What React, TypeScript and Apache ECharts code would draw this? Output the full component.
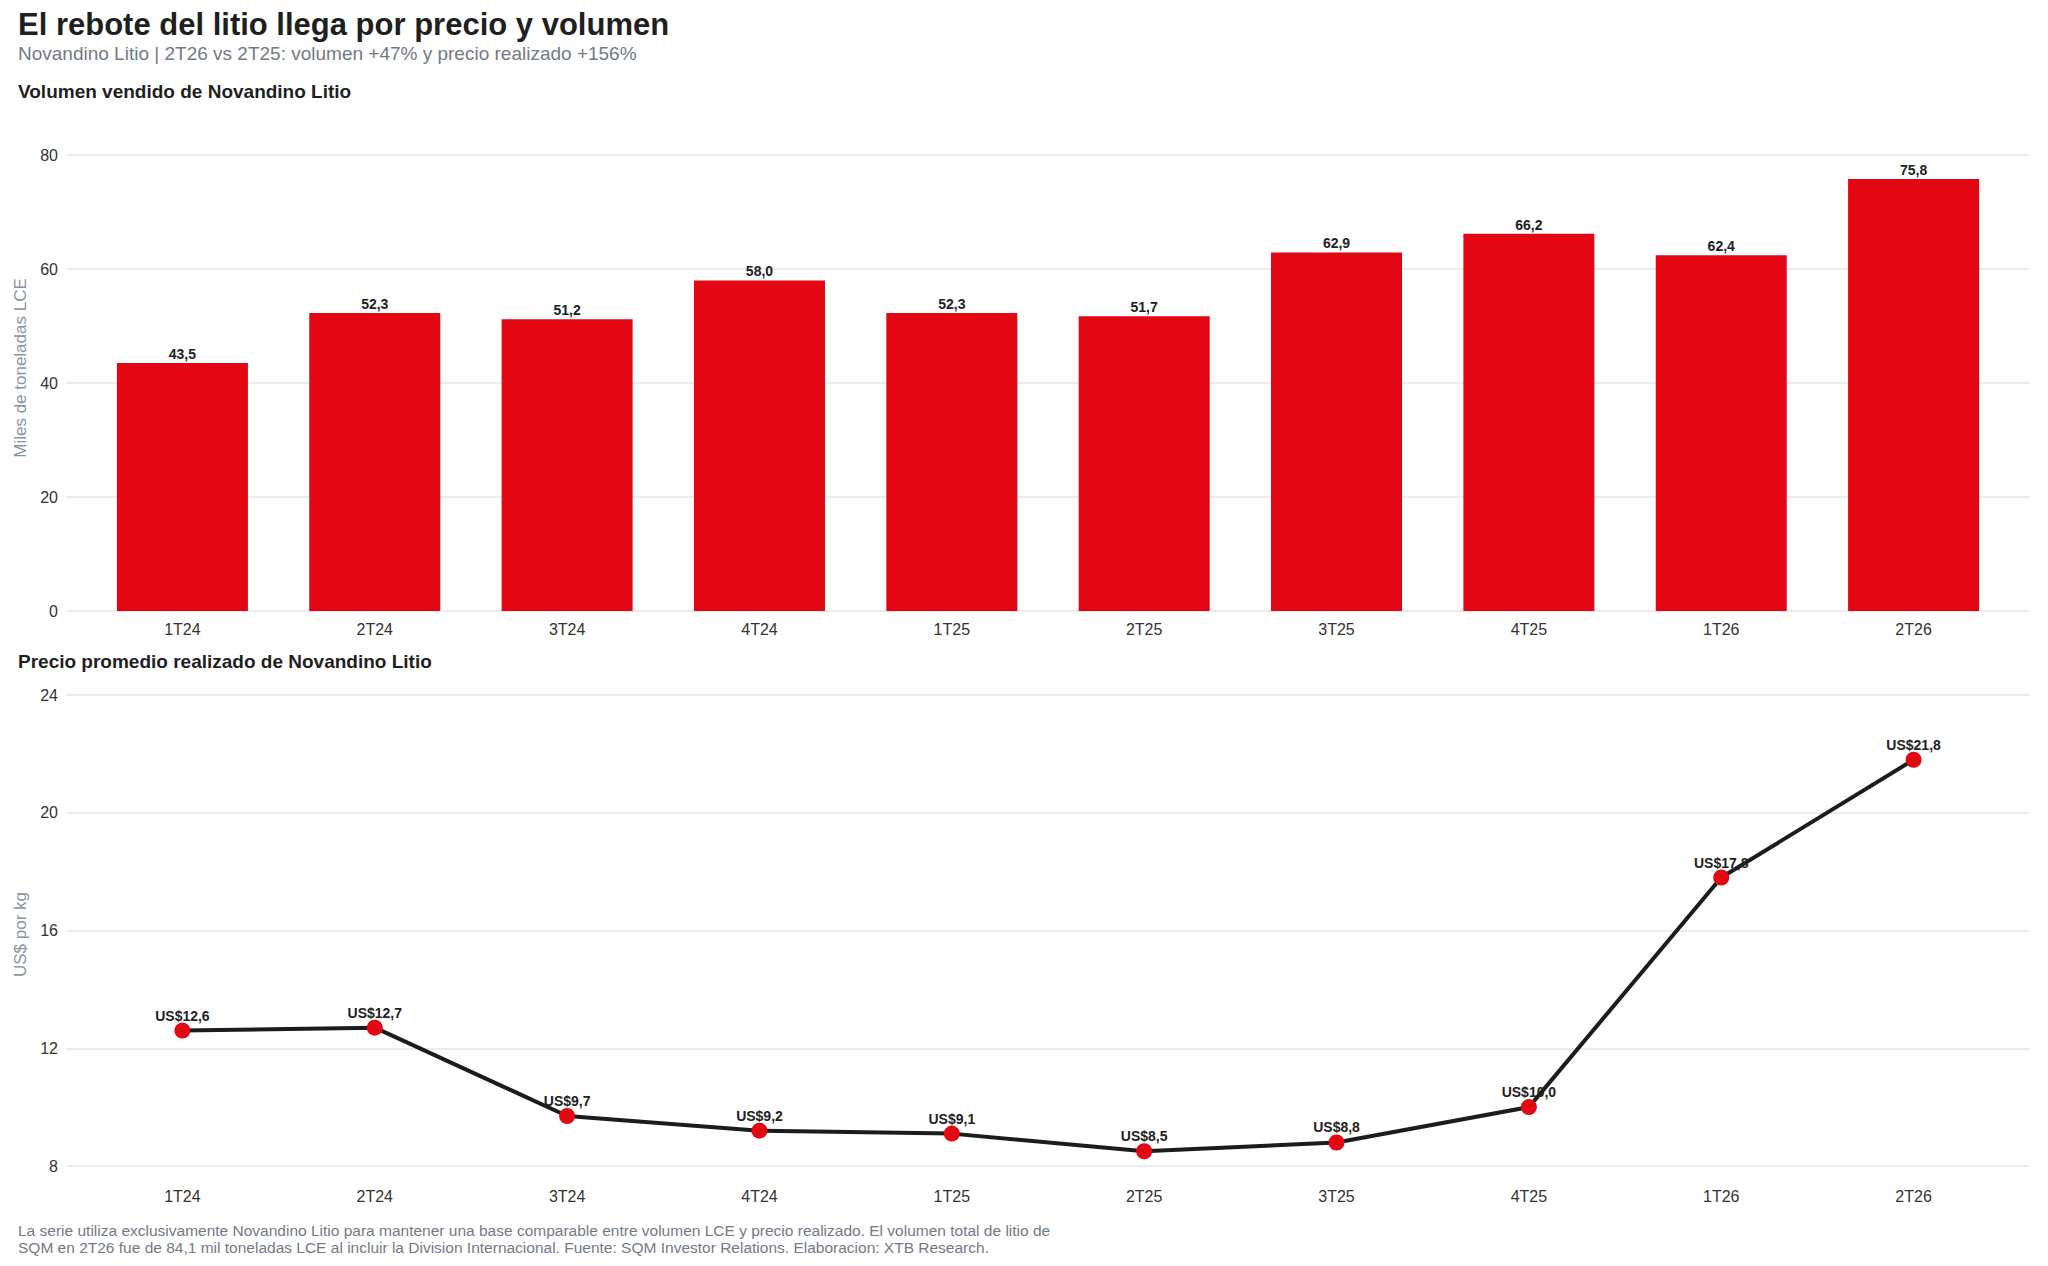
import React, { useEffect, useRef } from "react";
import * as echarts from "echarts";

const categories = ["1T24", "2T24", "3T24", "4T24", "1T25", "2T25", "3T25", "4T25", "1T26", "2T26"];
const volume = [43.5, 52.3, 51.2, 58.0, 52.3, 51.7, 62.9, 66.2, 62.4, 75.8];
const price = [12.6, 12.7, 9.7, 9.2, 9.1, 8.5, 8.8, 10.0, 17.8, 21.8];
const volumeTicks = [0, 20, 40, 60, 80];
const priceTicks = [8, 12, 16, 20, 24];

const titleText = "El rebote del litio llega por precio y volumen";
const subtitleText = "Novandino Litio | 2T26 vs 2T25: volumen +47% y precio realizado +156%";
const section1 = "Volumen vendido de Novandino Litio";
const section2 = "Precio promedio realizado de Novandino Litio";
const footer1 =
  "La serie utiliza exclusivamente Novandino Litio para mantener una base comparable entre volumen LCE y precio realizado. El volumen total de litio de";
const footer2 =
  "SQM en 2T26 fue de 84,1 mil toneladas LCE al incluir la Division Internacional. Fuente: SQM Investor Relations. Elaboracion: XTB Research.";

const FONT = "'Liberation Sans', Arial, Helvetica, sans-serif";
const RED = "#e30613";
const fmt = (v: number) => v.toFixed(1).replace(".", ",");

export default function App() {
  const ref = useRef<HTMLDivElement>(null);

  useEffect(() => {
    document.body.style.margin = "0";
    if (!ref.current) return;
    const chart = echarts.init(ref.current, undefined, { renderer: "svg" });
    const idx = categories.map((_, i) => i);

    const xAxisBase = (grid: number, margin: number) => ({
      type: "value",
      gridIndex: grid,
      min: -0.6,
      max: 9.6,
      axisLine: { show: false },
      axisTick: { show: false },
      splitLine: { show: false },
      axisLabel: {
        customValues: idx,
        formatter: (v: number) => categories[Math.round(v)] ?? "",
        margin,
        fontSize: 16,
        color: "#333333",
        fontFamily: FONT,
      },
    });

    const yAxisBase = (
      grid: number,
      name: string,
      min: number,
      max: number,
      interval: number,
      padding: number[]
    ) => ({
      type: "value",
      gridIndex: grid,
      min,
      max,
      interval,
      name,
      nameLocation: "middle",
      nameGap: 32,
      nameTextStyle: { color: "#8a93a3", fontSize: 17, fontFamily: FONT, padding },
      axisLine: { show: false },
      axisTick: { show: false },
      axisLabel: { fontSize: 16, color: "#333333", fontFamily: FONT, margin: 9 },
      splitLine: { lineStyle: { color: "#e6e6ea", width: 1.5 } },
    });

    const textEl = (text: string, y: number, size: number, weight: string, color: string) => ({
      type: "text",
      left: 18,
      top: y,
      style: {
        text,
        fontSize: size,
        fontWeight: weight,
        fontFamily: FONT,
        fill: color,
      },
    });

    chart.setOption({
      animation: false,
      backgroundColor: "#ffffff",
      grid: [
        { left: 67, right: 19, top: 155, bottom: 1266 - 611 },
        { left: 67, right: 19, top: 695, bottom: 1266 - 1166 },
      ],
      xAxis: [xAxisBase(0, 10), xAxisBase(1, 22)],
      yAxis: [
        yAxisBase(0, "Miles de toneladas LCE", volumeTicks[0], volumeTicks[volumeTicks.length - 1], 20, [0, 0, 0, 30]),
        yAxisBase(1, "US$ por kg", priceTicks[0], priceTicks[priceTicks.length - 1], 4, [0, 8, 0, 0]),
      ],
      graphic: [
        textEl(titleText, 9, 31, "bold", "#1f1f1f"),
        textEl(subtitleText, 44, 19, "normal", "#737a86"),
        textEl(section1, 82, 19, "bold", "#1f1f1f"),
        textEl(section2, 652, 19, "bold", "#1f1f1f"),
        textEl(footer1, 1222, 15.5, "normal", "#737a86"),
        textEl(footer2, 1239, 15.5, "normal", "#737a86"),
      ],
      series: [
        {
          type: "bar",
          xAxisIndex: 0,
          yAxisIndex: 0,
          data: idx.map((i) => [i, volume[i]]),
          barWidth: 131,
          itemStyle: { color: RED },
          label: {
            show: true,
            position: "top",
            distance: 2,
            formatter: (p: any) => fmt(p.value[1]),
            fontSize: 14,
            fontWeight: "bold",
            color: "#222222",
            fontFamily: FONT,
          },
        },
        {
          type: "line",
          xAxisIndex: 1,
          yAxisIndex: 1,
          data: idx.map((i) => [i, price[i]]),
          lineStyle: { color: "#1c1c1c", width: 4 },
          symbol: "circle",
          symbolSize: 16,
          itemStyle: { color: RED },
          label: {
            show: true,
            position: "top",
            distance: 0,
            formatter: (p: any) => "US$" + fmt(p.value[1]),
            fontSize: 14,
            fontWeight: "bold",
            color: "#222222",
            fontFamily: FONT,
          },
        },
      ],
    });

    return () => chart.dispose();
  }, []);

  return <div ref={ref} style={{ width: 2048, height: 1266 }} />;
}
